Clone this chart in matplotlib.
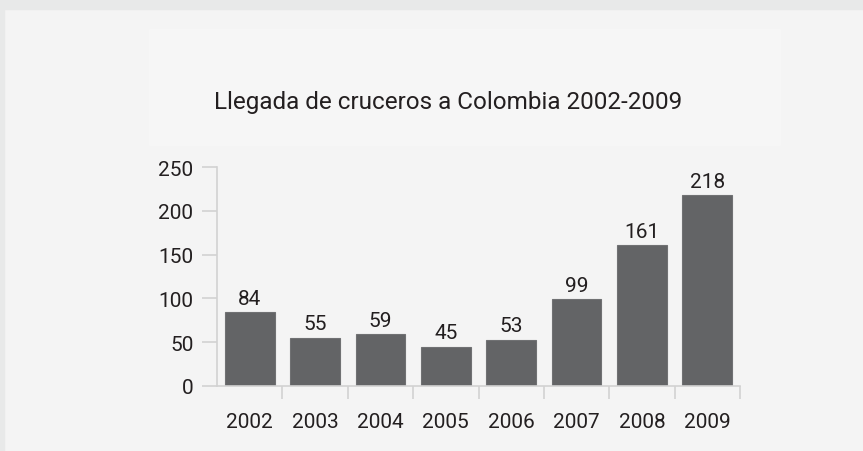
import matplotlib.pyplot as plt
from matplotlib.patches import Rectangle
import numpy as np

anios = ["2002", "2003", "2004", "2005", "2006", "2007", "2008", "2009"]
llegadas = [84, 55, 59, 45, 53, 99, 161, 218]
yticks = [0, 50, 100, 150, 200, 250]

fondo = "#f4f4f4"
gris_barra = "#636466"
gris_eje = "#d2d2d2"
texto = "#231f20"

plt.rcParams['font.family'] = ['Roboto', 'DejaVu Sans']

fig = plt.figure(figsize=(8.63, 4.52), dpi=100, facecolor=fondo)

# franja superior y borde izquierdo
fig.patches.append(Rectangle((0, 1 - 10 / 452), 1, 10 / 452, transform=fig.transFigure,
                             color="#e8e9e9", zorder=0))
fig.patches.append(Rectangle((0, 0), 4 / 863, 1, transform=fig.transFigure,
                             color="#e8e9e9", zorder=0))
# panel del titulo
fig.patches.append(Rectangle((149 / 863, 1 - 146 / 452), 631 / 863, 116 / 452,
                             transform=fig.transFigure, color="#f6f6f6", zorder=0))

fig.text(448 / 863, 1 - 103 / 452, "Llegada de cruceros a Colombia 2002-2009",
         ha="center", va="center", fontsize=17.5, color=texto)

ax = fig.add_axes([217 / 863, 1 - 387 / 452, 523 / 863, 219 / 452])
ax.set_facecolor("none")

x = np.arange(len(anios))
ax.bar(x, llegadas, width=0.76, color=gris_barra, edgecolor="#707173", linewidth=0.8, zorder=2)
for xi, v in zip(x, llegadas):
    ax.text(xi, v + 5, str(v), ha="center", va="bottom", fontsize=15, color=texto)

ax.set_xlim(-0.5, len(anios) - 0.5)
ax.set_ylim(0, 250)

for s in ["top", "right"]:
    ax.spines[s].set_visible(False)
ax.spines["left"].set_color(gris_eje)
ax.spines["bottom"].set_color(gris_eje)
ax.spines["left"].set_linewidth(1.2)
ax.spines["bottom"].set_linewidth(1.2)

ax.set_yticks(yticks)
ax.set_yticklabels([str(t) for t in yticks])
ax.tick_params(axis="y", length=11, width=1.2, color=gris_eje, labelsize=15,
               labelcolor=texto, pad=6)

ax.set_xticks(x)
ax.set_xticklabels(anios)
ax.tick_params(axis="x", length=0, labelsize=15, labelcolor=texto, pad=19)
ax.set_xticks(np.arange(len(anios)) + 0.5, minor=True)
ax.tick_params(axis="x", which="minor", length=9, width=1.2, color=gris_eje)

fig.savefig("out.png", dpi=100, facecolor=fondo)
